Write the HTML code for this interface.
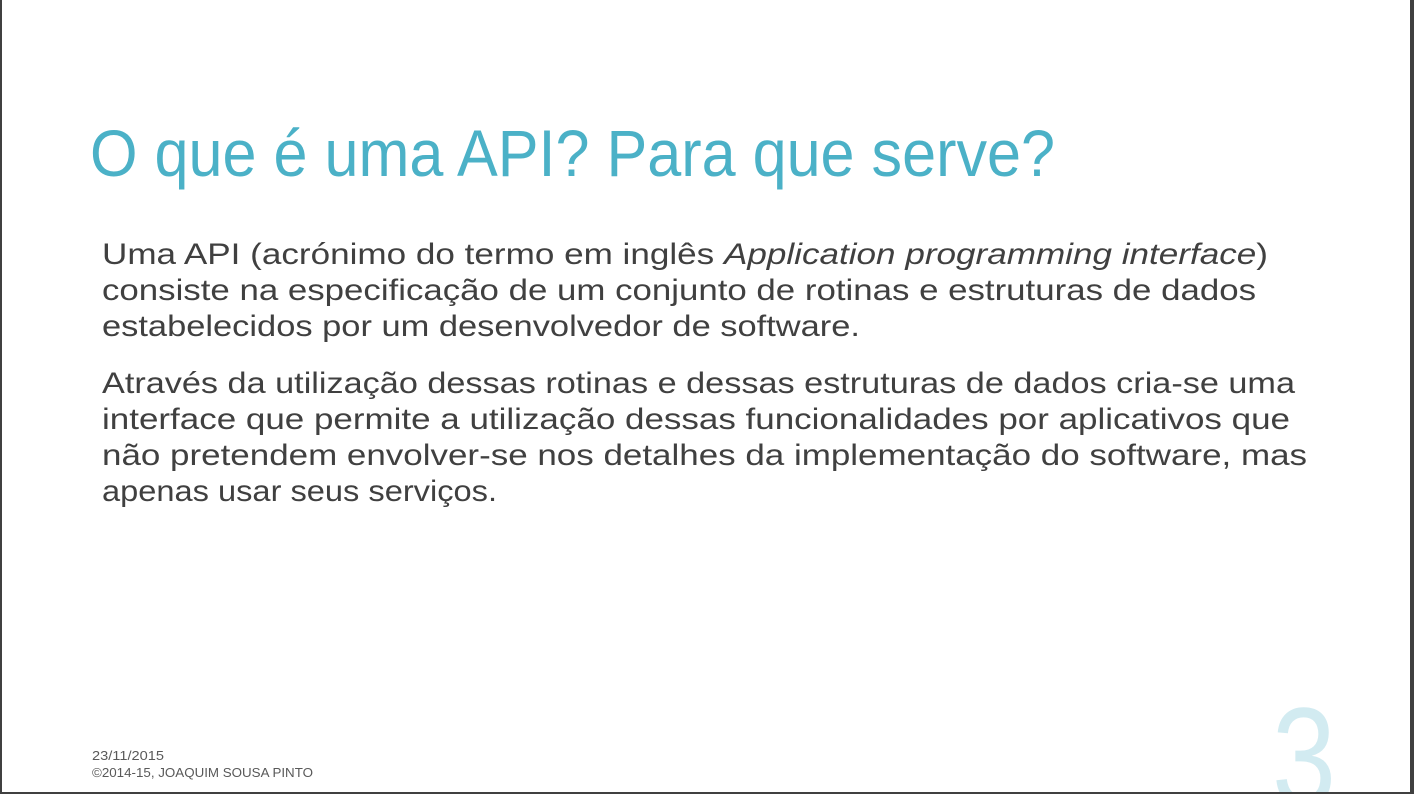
<!DOCTYPE html>
<html><head><meta charset="utf-8"><style>
html,body{margin:0;padding:0;background:#fff;}
body{width:1414px;height:794px;overflow:hidden;position:relative;}
svg{position:absolute;left:0;top:0;}
</style></head><body>
<svg width="1414" height="794" viewBox="0 0 1414 794" xmlns="http://www.w3.org/2000/svg" overflow="hidden">
<rect x="0" y="0" width="1414" height="794" fill="#fff"/>
<text x="90" y="176" font-family="Liberation Sans, sans-serif" font-size="66" fill="#4bb1c7" textLength="965" lengthAdjust="spacingAndGlyphs">O que é uma API? Para que serve?</text>
<g font-family="Liberation Sans, sans-serif" font-size="30" fill="#404040">
<text x="102" y="264" textLength="1166" lengthAdjust="spacingAndGlyphs">Uma API (acrónimo do termo em inglês <tspan font-style="italic">Application programming interface</tspan>)</text>
<text x="102" y="300" textLength="1154" lengthAdjust="spacingAndGlyphs">consiste na especificação de um conjunto de rotinas e estruturas de dados</text>
<text x="102" y="336" textLength="758" lengthAdjust="spacingAndGlyphs">estabelecidos por um desenvolvedor de software.</text>
<text x="102" y="393" textLength="1193" lengthAdjust="spacingAndGlyphs">Através da utilização dessas rotinas e dessas estruturas de dados cria-se uma</text>
<text x="102" y="429" textLength="1188" lengthAdjust="spacingAndGlyphs">interface que permite a utilização dessas funcionalidades por aplicativos que</text>
<text x="102" y="465" textLength="1205" lengthAdjust="spacingAndGlyphs">não pretendem envolver-se nos detalhes da implementação do software, mas</text>
<text x="102" y="501" textLength="395" lengthAdjust="spacingAndGlyphs">apenas usar seus serviços.</text>
</g>
<g font-family="Liberation Sans, sans-serif" font-size="13" fill="#595959">
<text x="92" y="760" textLength="72" lengthAdjust="spacingAndGlyphs">23/11/2015</text>
<text x="92" y="777" textLength="221" lengthAdjust="spacingAndGlyphs">©2014-15, JOAQUIM SOUSA PINTO</text>
</g>
<text x="1272" y="805" font-family="Liberation Sans, sans-serif" font-size="140" fill="#d2ebf1" textLength="64" lengthAdjust="spacingAndGlyphs">3</text>
<rect x="0" y="0" width="2" height="794" fill="#404040"/>
<rect x="1410" y="0" width="4" height="794" fill="#404040"/>
<rect x="0" y="792" width="1414" height="2" fill="#404040"/>
</svg>
</body></html>
